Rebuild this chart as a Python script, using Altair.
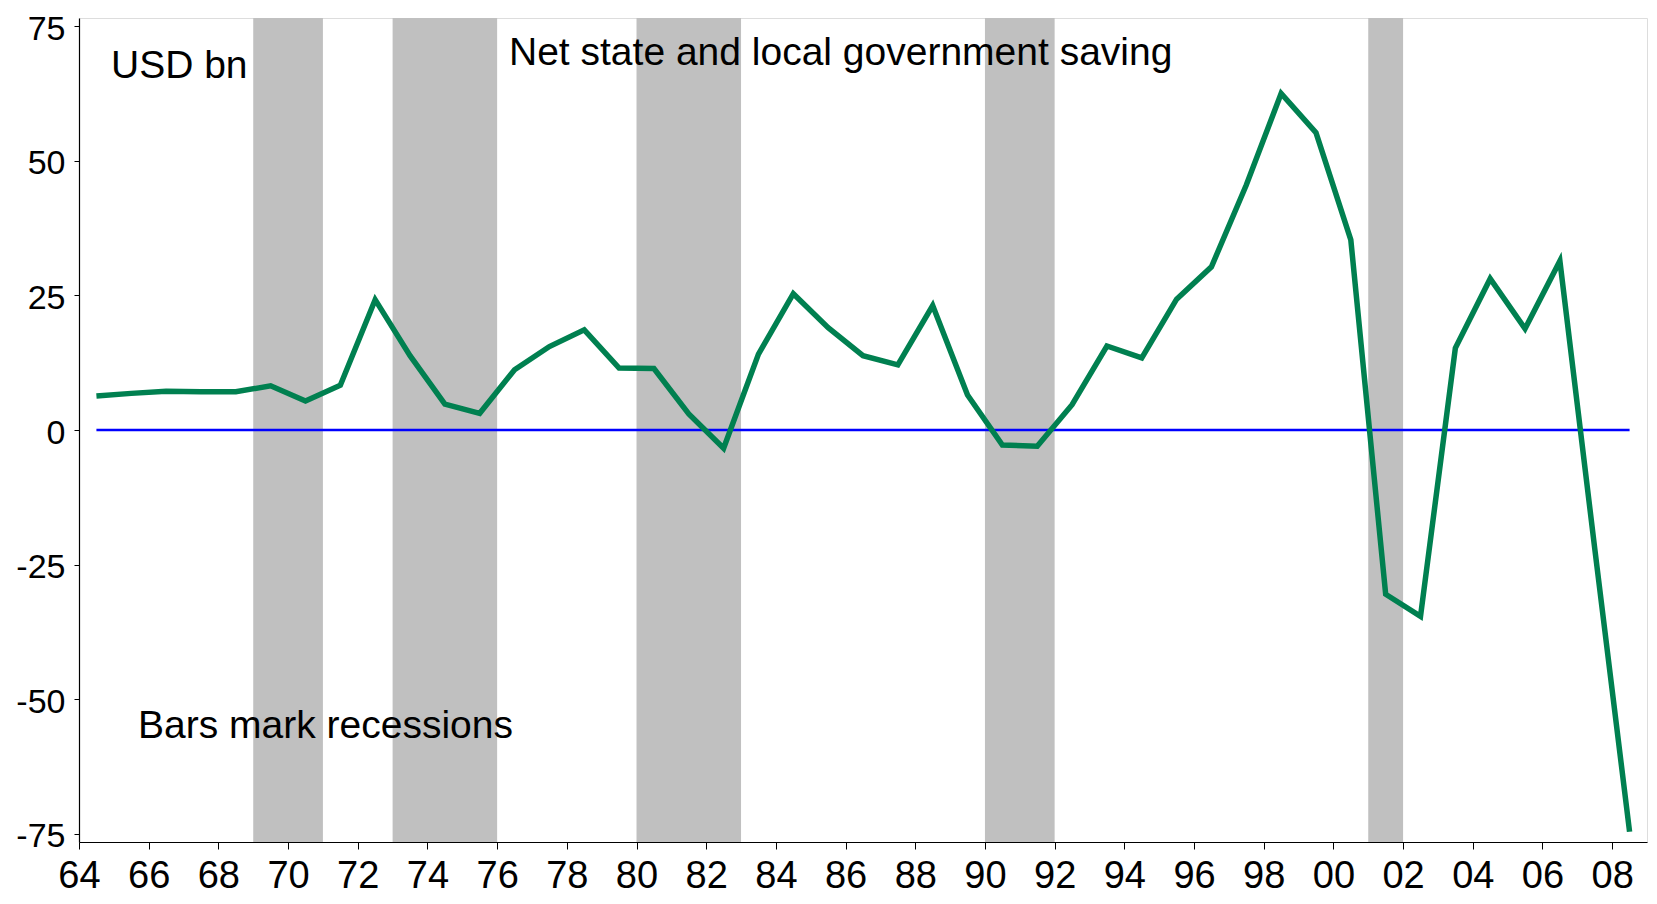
import altair as alt
import pandas as pd

# ---- data ----
years = list(range(1964, 2009))
saving = [6.3, 6.8, 7.2, 7.1, 7.1, 8.2, 5.4, 8.3, 24.2, 13.8,
          4.8, 3.1, 11.2, 15.5, 18.6, 11.5, 11.4, 3.0, -3.4, 14.1,
          25.3, 19.0, 13.8, 12.1, 23.1, 6.5, -2.8, -3.0, 4.7, 15.6,
          13.4, 24.3, 30.3, 45.5, 62.5, 55.2, 35.3, -30.5, -34.6, 15.2,
          28.1, 18.8, 31.4, -22.0, -74.6]

rec_start = [1969, 1973, 1980, 1990, 2001]
rec_end = [1971, 1976, 1983, 1992, 2002]

x_ticks = list(range(1964, 2009, 2))
y_ticks = [-75, -50, -25, 0, 25, 50, 75]
y_lo, y_hi = -76.5, 76.5

FONT = "Liberation Sans"

series = pd.DataFrame({"x": [y + 0.5 for y in years], "v": saving})
recs = pd.DataFrame({"s": rec_start, "e": rec_end,
                     "lo": [y_lo] * len(rec_start), "hi": [y_hi] * len(rec_start)})
zero = pd.DataFrame({"x": [years[0] + 0.5], "x2": [years[-1] + 0.5], "y": [0]})

xscale = alt.Scale(domain=[1964, 2009], nice=False, zero=False)
yscale = alt.Scale(domain=[y_lo, y_hi], nice=False, zero=False)

xaxis = alt.Axis(values=x_ticks, labelExpr="substring(toString(datum.value), 2)",
                 title=None, grid=False, domainColor="black", domainWidth=1.2,
                 tickColor="black", tickSize=7, tickWidth=1, labelFontSize=38,
                 labelFont=FONT, labelColor="black", labelPadding=8,
                 labelFlush=False, labelOverlap=False)
yaxis = alt.Axis(values=y_ticks, labelExpr="toString(datum.value)", title=None,
                 grid=False, domainColor="black", domainWidth=1.2,
                 tickColor="black", tickSize=5, tickWidth=1, labelFontSize=34,
                 labelFont=FONT, labelColor="black", labelPadding=9,
                 labelBaseline="alphabetic", labelOffset=13,
                 labelFlush=False, labelOverlap=False)

bars = alt.Chart(recs).mark_rect(color="#C0C0C0").encode(
    x=alt.X("s:Q", scale=xscale, axis=xaxis),
    x2="e:Q",
    y=alt.Y("lo:Q", scale=yscale, axis=yaxis),
    y2="hi:Q",
)

rule = alt.Chart(zero).mark_rule(color="#0000FF", strokeWidth=2.5).encode(
    x=alt.X("x:Q", scale=xscale), x2="x2:Q", y=alt.Y("y:Q", scale=yscale)
)

line = alt.Chart(series).mark_line(color="#008050", strokeWidth=5.5,
                                   strokeJoin="miter").encode(
    x=alt.X("x:Q", scale=xscale), y=alt.Y("v:Q", scale=yscale)
)


def label(text, px, py):
    return alt.Chart(pd.DataFrame({"t": [text]})).mark_text(
        font=FONT, fontSize=39, color="black", align="left",
        baseline="alphabetic").encode(
        text="t:N", x=alt.value(px), y=alt.value(py))


chart = alt.layer(
    bars, rule, line,
    label("USD bn", 32, 59.7),
    label("Net state and local government saving", 430, 46.8),
    label("Bars mark recessions", 59, 719.5),
).properties(
    width=1568, height=824,
    autosize=alt.AutoSizeParams(type="none"),
    padding={"left": 71, "top": 10, "right": 1, "bottom": 54},
).configure_view(stroke=None).configure(background="white")

chart.save("out.html", embed_options={"renderer": "svg", "actions": False})
